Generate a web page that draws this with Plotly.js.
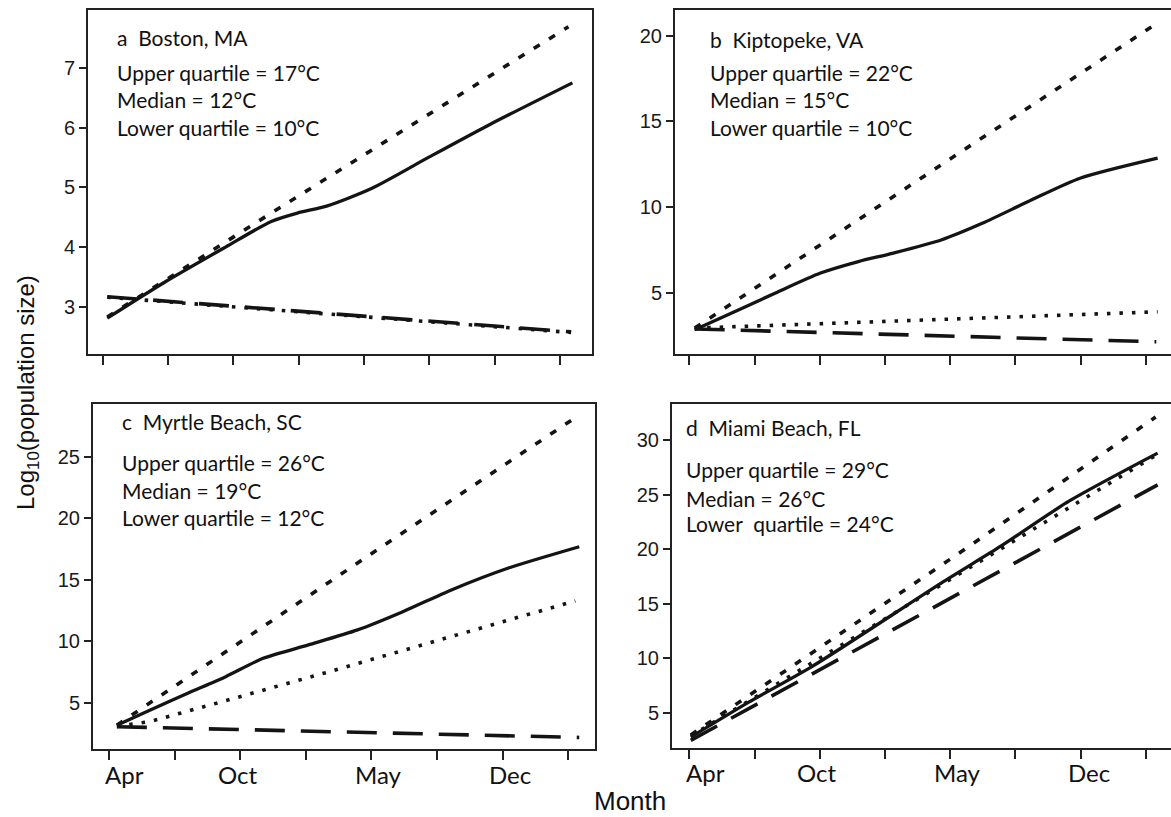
<!DOCTYPE html>
<html>
<head>
<meta charset="utf-8">
<script src="https://cdn.plot.ly/plotly-3.0.1.min.js"></script>
<style>html,body{margin:0;padding:0;background:#fff;overflow:hidden}#chart{width:1171px;height:817px}</style>
</head>
<body>
<div id="chart"></div>
<script>
// ---------- data (x in axis-tick units; 0 = Apr) ----------
const tickPositions = [0, 1, 2, 3, 4, 5, 6, 7];
const monthLabels = ['Apr', 'Oct', 'May', 'Dec'];
const monthLabelX = [0.24, 1.96, 4.11, 6.12];

// a Boston, MA
const aUpperX = [0.07, 2.58, 7.13];
const aUpper = [2.83, 4.57, 7.69];
const aFluctX = [0.07, 0.96, 1.88, 2.58, 2.98, 3.44, 4.13, 5.0, 5.92, 7.19];
const aFluct = [2.81, 3.42, 4.0, 4.43, 4.57, 4.69, 4.99, 5.51, 6.05, 6.75];
const aMedianX = [0.07, 7.17];
const aMedian = [3.16, 2.57];
const aLowerX = [0.07, 7.17];
const aLower = [3.17, 2.58];

// b Kiptopeke, VA
const bUpperX = [0.08, 4.15, 7.18];
const bUpper = [2.95, 13.2, 20.75];
const bFluctX = [0.08, 0.86, 1.32, 2.01, 2.59, 3.11, 3.86, 4.49, 5.25, 5.99, 7.18];
const bFluct = [2.85, 4.2, 5.0, 6.16, 6.83, 7.31, 8.09, 9.06, 10.43, 11.69, 12.86];
const bMedianX = [0.08, 7.18];
const bMedian = [2.95, 3.9];
const bLowerX = [0.08, 7.16];
const bLower = [2.9, 2.15];

// c Myrtle Beach, SC
const cUpperX = [0.12, 4.13, 7.14];
const cUpper = [3.2, 17.6, 28.3];
const cFluctX = [0.12, 0.63, 1.2, 1.78, 2.35, 3.04, 3.79, 4.48, 5.22, 6.08, 7.17];
const cFluct = [3.2, 4.43, 5.79, 7.14, 8.63, 9.72, 10.94, 12.42, 14.19, 15.95, 17.7];
const cMedianX = [0.12, 0.63, 1.72, 3.33, 5.22, 7.11];
const cMedian = [3.1, 3.5, 5.1, 7.5, 10.4, 13.3];
const cLowerX = [0.12, 7.17];
const cLower = [3.07, 2.2];

// d Miami Beach, FL
const dUpperX = [0.02, 4.15, 7.15];
const dUpper = [3.0, 19.7, 32.1];
const dFluctX = [0.02, 0.91, 1.89, 3.86, 4.78, 5.82, 7.18];
const dFluct = [2.8, 6.0, 9.3, 16.9, 20.3, 24.4, 28.8];
const dMedianX = [0.02, 7.18];
const dMedian = [2.9, 28.7];
const dLowerX = [0.02, 7.18];
const dLower = [2.5, 25.9];

const panelTitles = ['a  Boston, MA', 'b  Kiptopeke, VA', 'c  Myrtle Beach, SC', 'd  Miami Beach, FL'];
const panelText = [
  ['Upper quartile = 17°C', 'Median = 12°C', 'Lower quartile = 10°C'],
  ['Upper quartile = 22°C', 'Median = 15°C', 'Lower quartile = 10°C'],
  ['Upper quartile = 26°C', 'Median = 19°C', 'Lower quartile = 12°C'],
  ['Upper quartile = 29°C', 'Median = 26°C', 'Lower  quartile = 24°C']
];

// ---------- build ----------
const W = 1171, H = 817;
const px = v => v / W;
const py = v => 1 - v / H;
const ink = '#141414';

const styles = {
  upper: {color: ink, width: 3.6, dash: '7px,11px'},
  fluct: {color: ink, width: 3.3, shape: 'spline', smoothing: 0.7},
  median: {color: ink, width: 3.6, dash: '3.5px,9px'},
  lower: {color: ink, width: 3.6, dash: '30px,16px'}
};

const panels = [
  {ax: '', U: [aUpperX, aUpper], F: [aFluctX, aFluct], M: [aMedianX, aMedian], L: [aLowerX, aLower]},
  {ax: '2', U: [bUpperX, bUpper], F: [bFluctX, bFluct], M: [bMedianX, bMedian], L: [bLowerX, bLower]},
  {ax: '3', U: [cUpperX, cUpper], F: [cFluctX, cFluct], M: [cMedianX, cMedian], L: [cLowerX, cLower]},
  {ax: '4', U: [dUpperX, dUpper], F: [dFluctX, dFluct], M: [dMedianX, dMedian], L: [dLowerX, dLower]}
];

const traces = [];
panels.forEach(p => {
  [['lower', p.L], ['median', p.M], ['upper', p.U], ['fluct', p.F]].forEach(([k, d]) => {
    traces.push({
      type: 'scatter', mode: 'lines', x: d[0], y: d[1],
      xaxis: 'x' + p.ax, yaxis: 'y' + p.ax,
      line: Object.assign({shape: 'linear'}, styles[k]),
      hoverinfo: 'skip', showlegend: false
    });
  });
});

const tickFont = {family: 'Liberation Sans, Arial, sans-serif', size: 20, color: '#1a1a1a'};
function xAx(domain, range) {
  return {domain, range, tickvals: tickPositions, showticklabels: false, ticks: 'outside',
    ticklen: 9, tickwidth: 2, tickcolor: '#222', showline: true, linecolor: '#222', linewidth: 2,
    mirror: true, showgrid: false, zeroline: false, fixedrange: true};
}
function yAx(domain, range, dtick, mirror) {
  return {domain, range, dtick, tick0: 0, ticks: 'outside', ticklen: 7, tickwidth: 2, tickcolor: '#222',
    tickfont: tickFont, showline: true, linecolor: '#222', linewidth: 2, mirror: mirror,
    showgrid: false, zeroline: false, fixedrange: true};
}

const dA = [px(88), px(592)], dB = [px(675), 1], dC = [px(93), px(595)], dD = [px(672), 1];
const topY = [py(354), py(10)], botY = [py(749), py(404)], botYd = [py(748), py(404)];
const rA = [-0.225, 7.49], rB = [-0.222, 7.385], rC = [-0.244, 7.41], rD = [-0.268, 7.385];

const annFont = {family: 'Lato, Open Sans, sans-serif', size: 21, color: '#111'};
const annPos = [
  {x: 115, t: 37, l: [73, 100, 128]},
  {x: 708, t: 39, l: [72, 100, 128]},
  {x: 120, t: 421, l: [462, 490, 517]},
  {x: 684, t: 427, l: [470, 498, 523]}
];
const annotations = [];
annPos.forEach((a, i) => {
  annotations.push({xref: 'paper', yref: 'paper', x: px(a.x), y: py(a.t), xanchor: 'left', yanchor: 'middle',
    text: panelTitles[i], showarrow: false, font: annFont});
  a.l.forEach((yy, j) => annotations.push({xref: 'paper', yref: 'paper', x: px(a.x), y: py(yy),
    xanchor: 'left', yanchor: 'middle', text: panelText[i][j], showarrow: false, font: annFont}));
});
// month tick labels under panels c and d
[['x3', 774], ['x4', 772]].forEach(([xr, yy]) => {
  monthLabels.forEach((m, i) => annotations.push({xref: xr, yref: 'paper', x: monthLabelX[i], y: py(yy),
    xanchor: 'center', yanchor: 'middle', text: m, showarrow: false,
    font: {family: 'Lato, Open Sans, sans-serif', size: 24, color: '#111'}}));
});
annotations.push({xref: 'paper', yref: 'paper', x: px(27), y: py(393), xanchor: 'center', yanchor: 'middle',
  textangle: -90, text: 'Log<sub>10</sub>(population size)', showarrow: false,
  font: {family: 'Liberation Sans, Arial, sans-serif', size: 24, color: '#111'}});
annotations.push({xref: 'paper', yref: 'paper', x: px(630), y: py(801), xanchor: 'center', yanchor: 'middle',
  text: 'Month', showarrow: false, font: {family: 'Liberation Sans, Arial, sans-serif', size: 26, color: '#111'}});

const layout = {
  width: W, height: H, margin: {l: 0, r: 0, t: 0, b: 0},
  paper_bgcolor: '#fff', plot_bgcolor: '#fff', showlegend: false,
  xaxis: Object.assign(xAx(dA, rA), {anchor: 'y'}), yaxis: Object.assign(yAx(topY, [2.21, 7.97], 1, true), {anchor: 'x'}),
  xaxis2: Object.assign(xAx(dB, rB), {anchor: 'y2'}), yaxis2: Object.assign(yAx(topY, [1.44, 21.5], 5, false), {anchor: 'x2'}),
  xaxis3: Object.assign(xAx(dC, rC), {anchor: 'y3'}), yaxis3: Object.assign(yAx(botY, [1.26, 29.3], 5, true), {anchor: 'x3'}),
  xaxis4: Object.assign(xAx(dD, rD), {anchor: 'y4'}), yaxis4: Object.assign(yAx(botYd, [1.8, 33.3], 5, false), {anchor: 'x4'}),
  annotations
};

Plotly.newPlot('chart', traces, layout, {staticPlot: true, displayModeBar: false});
</script>
</body>
</html>
